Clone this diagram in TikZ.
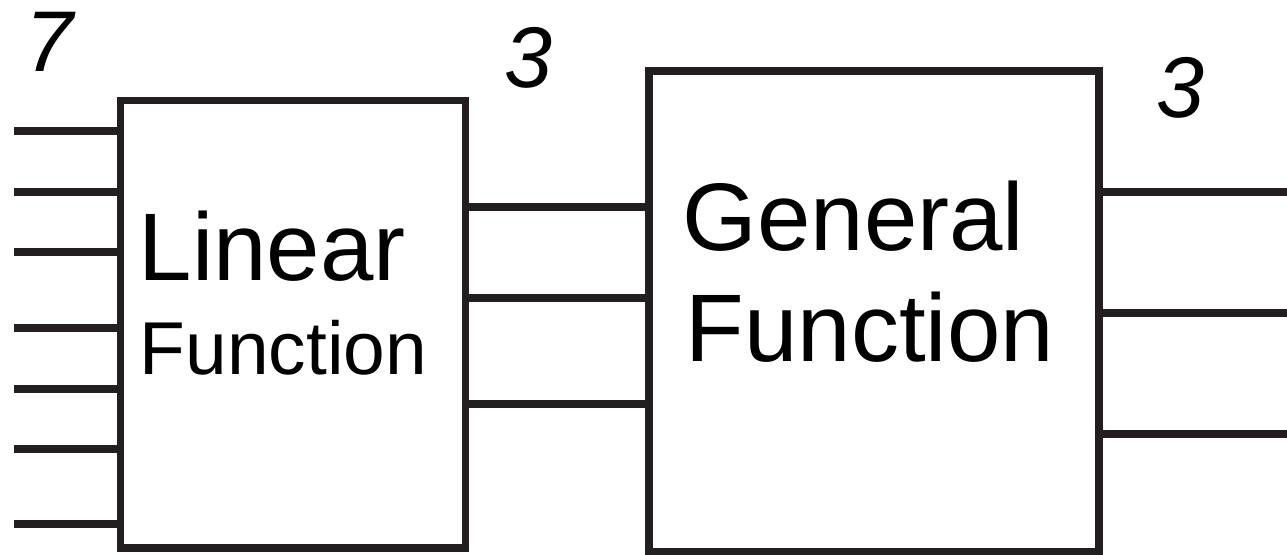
\documentclass[tikz,border=0pt]{standalone}
\usepackage{fontspec}
\setmainfont{Liberation Sans}
\usetikzlibrary{positioning}
\definecolor{ink}{HTML}{231F20}
\tikzset{
  fnbox/.style={draw=ink, line width=2.13pt, inner sep=0pt, outer sep=0pt},
  wire/.style={draw=ink, line width=2.13pt},
  lbl/.style={inner sep=0pt, anchor=base west},
  bigtext/.style={font=\fontsize{27.3}{27.3}\selectfont},
  smalltext/.style={font=\fontsize{21.3}{21.3}\selectfont},
  count/.style={inner sep=0pt, anchor=base west, font=\fontsize{24.5}{24.5}\selectfont\itshape}
}

\begin{document}
\begin{tikzpicture}[x=0.01cm, y=0.01cm]
\useasboundingbox (0,0) rectangle (1287,555);
\node[fnbox, minimum width=3.45cm, minimum height=4.475cm] (lin) at (293,230.75) {};
\node[fnbox, minimum width=4.5cm, minimum height=4.807cm] (gen) at (874,243.35) {};
\node[lbl, bigtext] (linA) at (138,274.3) {Linear};
\node[lbl, smalltext] (linB) at (139,180) {Function};
\node[lbl, bigtext] (genA) at (682,304.3) {General};
\node[lbl, bigtext] (genB) at (685,193.3) {Function};
\foreach \y [count=\i] in {424,363,303,227,166,106,31} {
  \coordinate (in\i) at (14,\y);
  \draw[wire] (in\i) -- (lin.west |- in\i);
}
\foreach \y [count=\i] in {348,257,151} {
  \coordinate (mid\i) at (557,\y);
  \draw[wire] (lin.east |- mid\i) -- (gen.west |- mid\i);
}
\foreach \y [count=\i] in {363,242,121} {
  \coordinate (out\i) at (1287,\y);
  \draw[wire] (gen.east |- out\i) -- (out\i);
}
\node[count] (nin) at (25,483) {7};
\node[count] (nmid) at (504,467) {3};
\node[count] (nout) at (1156,437) {3};
\end{tikzpicture}
\end{document}
